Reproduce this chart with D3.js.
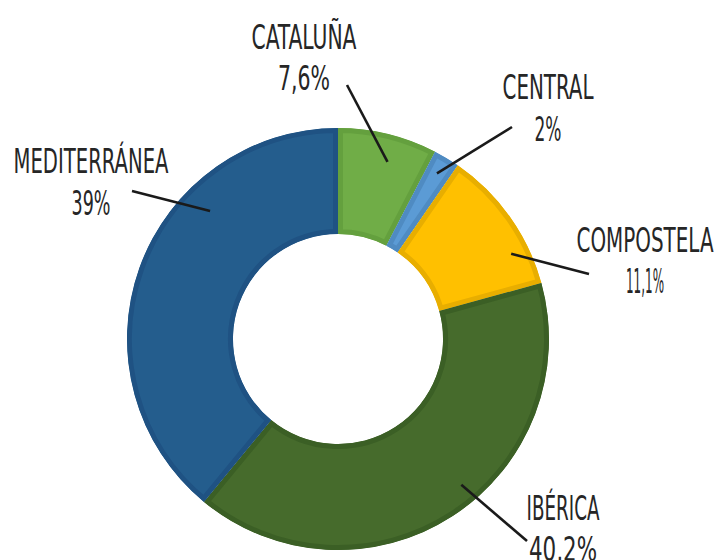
<!DOCTYPE html>
<html>
<head>
<meta charset="utf-8">
<script src="https://cdn.jsdelivr.net/npm/d3@7"></script>
<style>
  html, body { margin: 0; padding: 0; background: #fff; }
  svg { display: block; }
  .lbl { font-family: "DejaVu Sans Condensed", "DejaVu Sans", sans-serif; font-weight: normal; fill: #262626; }
</style>
</head>
<body>
<svg id="chart"></svg>
<script>
// Data (clockwise from 12 o'clock)
const regions = ["Cataluña", "Central", "Compostela", "Ibérica", "Mediterránea"];
const shares = [7.6, 2, 11.1, 40.2, 39];
const shareLabels = ["7,6%", "2%", "11,1%", "40,2%", "39%"];

// Styling
const fills   = ["#70ad47", "#5b9bd5", "#ffc000", "#466b2c", "#245d8d"];
const borders = ["#64a03e", "#4f8bc2", "#e8ae00", "#3b5f25", "#1f5283"];

// label layout: name / value text box, leader line outer point, where on the slice the line ends
const labelLayout = [
  {x: 304, y1: 49,  y2: 90,  w1: 105, w2: 52, lx: 347, ly: 85,  frac: 0.57, r: 184},
  {x: 548, y1: 99,  y2: 141, w1: 91,  w2: 27, lx: 512, ly: 127, frac: 0.48, r: 193},
  {x: 645, y1: 252, y2: 293, w1: 137, w2: 38, lx: 589, ly: 274, frac: 0.73, r: 193},
  {x: 563, y1: 520, y2: 561, w1: 73,  w2: 68, lx: 527, ly: 541, frac: 0.45, r: 191},
  {x: 91,  y1: 173, y2: 215, w1: 155, w2: 39, lx: 132, ly: 191, frac: 0.68, r: 181}
];

const width = 718, height = 560;
const cx = 338, cy = 339;
const outerR = 211, innerR = 105;

const svg = d3.select("#chart").attr("width", width).attr("height", height);
const g = svg.append("g").attr("transform", `translate(${cx},${cy})`);

const pie = d3.pie().sort(null).value(d => d);
const arcs = pie(shares);
const arc = d3.arc().innerRadius(innerR).outerRadius(outerR);

// clip each slice to itself so its border only shows on the inside
const defs = svg.append("defs");
arcs.forEach((a, i) => {
  defs.append("clipPath").attr("id", "clip" + i)
    .append("path").attr("d", arc(a));
});

g.selectAll(".slice")
  .data(arcs)
  .join("path")
    .attr("class", "slice")
    .attr("d", arc)
    .attr("fill", (d, i) => fills[i])
    .attr("stroke", (d, i) => borders[i])
    .attr("stroke-width", 10)
    .attr("stroke-linejoin", "round")
    .attr("clip-path", (d, i) => `url(#clip${i})`);

// leader lines
const leaderEnd = (d, i) => {
  const ang = d.startAngle + (d.endAngle - d.startAngle) * labelLayout[i].frac;
  return [Math.sin(ang) * labelLayout[i].r, -Math.cos(ang) * labelLayout[i].r];
};

g.selectAll(".leader")
  .data(arcs)
  .join("line")
    .attr("class", "leader")
    .attr("x1", (d, i) => labelLayout[i].lx - cx)
    .attr("y1", (d, i) => labelLayout[i].ly - cy)
    .attr("x2", (d, i) => leaderEnd(d, i)[0])
    .attr("y2", (d, i) => leaderEnd(d, i)[1])
    .attr("stroke", "#1a1a1a")
    .attr("stroke-width", 2.6);

// labels
const labels = svg.selectAll(".lblg")
  .data(regions)
  .join("g")
    .attr("class", "lblg");

labels.append("text")
  .attr("class", "lbl")
  .attr("x", (d, i) => labelLayout[i].x - labelLayout[i].w1 / 2)
  .attr("y", (d, i) => labelLayout[i].y1)
  .attr("font-size", 34)
  .attr("textLength", (d, i) => labelLayout[i].w1)
  .attr("lengthAdjust", "spacingAndGlyphs")
  .text(d => d.toUpperCase());

labels.append("text")
  .attr("class", "lbl")
  .attr("x", (d, i) => labelLayout[i].x - labelLayout[i].w2 / 2)
  .attr("y", (d, i) => labelLayout[i].y2)
  .attr("font-size", 34)
  .attr("textLength", (d, i) => labelLayout[i].w2)
  .attr("lengthAdjust", "spacingAndGlyphs")
  .text((d, i) => shareLabels[i]);
</script>
</body>
</html>
